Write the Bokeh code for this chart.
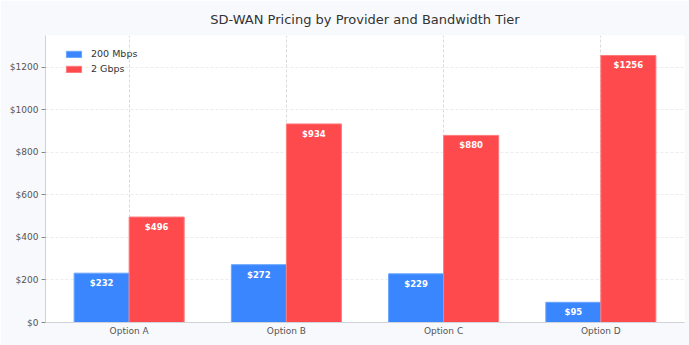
from bokeh.plotting import figure
from bokeh.models import ColumnDataSource, NumeralTickFormatter, Range1d, FactorRange, Legend, LegendItem
from bokeh.transform import dodge
from bokeh.core.properties import value
from bokeh.embed import file_html
from bokeh.resources import INLINE

providers = ["Option A", "Option B", "Option C", "Option D"]
mbps200 = [232, 272, 229, 95]
gbps2 = [496, 934, 880, 1256]
series_names = ["200 Mbps", "2 Gbps"]
colors = ["#3a86ff", "#ff4a4d"]

src = ColumnDataSource(dict(
    provider=providers,
    a=mbps200,
    b=gbps2,
    a_lbl=["$%d" % v for v in mbps200],
    b_lbl=["$%d" % v for v in gbps2],
))

FONT = "DejaVu Sans"

p = figure(width=689, height=345, output_backend="svg", toolbar_location=None,
           x_range=FactorRange(*providers, range_padding=0.016),
           y_range=Range1d(0, 1350),
           min_border_left=45, min_border_right=5, min_border_top=0, min_border_bottom=23)

p.border_fill_color = "#f8f9fc"
p.background_fill_color = "#ffffff"
p.outline_line_color = None

p.title.text = "SD-WAN Pricing by Provider and Bandwidth Tier"
p.title.align = "center"
p.title.text_font = FONT
p.title.text_font_size = "13px"
p.title.text_font_style = "normal"
p.title.text_color = "#333333"
p.title.offset = 0
p.title.standoff = 18

w = 0.35
r1 = p.vbar(x=dodge("provider", -w / 2, range=p.x_range), top="a", width=w, source=src,
            fill_color=colors[0], line_color="#6aa5ff", line_width=1)
r2 = p.vbar(x=dodge("provider", w / 2, range=p.x_range), top="b", width=w, source=src,
            fill_color=colors[1], line_color="#ff7a7c", line_width=1)

for col, lbl, off in (("a", "a_lbl", -w / 2), ("b", "b_lbl", w / 2)):
    p.text(x=dodge("provider", off, range=p.x_range), y=col, text=lbl, source=src,
           y_offset=10, text_align="center", text_baseline="middle",
           text_color="white", text_font=value(FONT), text_font_size="8.5px",
           text_font_style="bold")

legend = Legend(items=[LegendItem(label=series_names[0], renderers=[r1]),
                       LegendItem(label=series_names[1], renderers=[r2])],
                location=(19, 248))
legend.background_fill_alpha = 0
legend.border_line_color = None
legend.label_text_font = FONT
legend.label_text_font_size = "9.5px"
legend.label_text_color = "#333333"
legend.glyph_width = 19
legend.glyph_height = 8
legend.label_height = 10
legend.label_standoff = 8
legend.spacing = 4
legend.padding = 8
legend.margin = 0
p.add_layout(legend)

p.yaxis.formatter = NumeralTickFormatter(format="$0")
p.yaxis.ticker = [0, 200, 400, 600, 800, 1000, 1200]
for ax in (p.xaxis, p.yaxis):
    ax.axis_line_color = "#cfd3da"
    ax.major_label_text_font = FONT
    ax.major_label_text_font_size = "9px"
    ax.major_label_text_color = "#555555"
    ax.minor_tick_line_color = None
p.yaxis.major_tick_line_color = "#888888"
p.yaxis.major_tick_in = 0
p.yaxis.major_tick_out = 4
p.yaxis.major_label_standoff = 3
p.xaxis.major_tick_line_color = None
p.xaxis.major_tick_in = 0
p.xaxis.major_tick_out = 0
p.xaxis.major_label_standoff = 3

p.xgrid.grid_line_color = "#dadada"
p.xgrid.grid_line_dash = "3 2"
p.ygrid.grid_line_color = "#ececec"
p.ygrid.grid_line_dash = "3 2"

open("out.html", "w").write(file_html(p, INLINE))
